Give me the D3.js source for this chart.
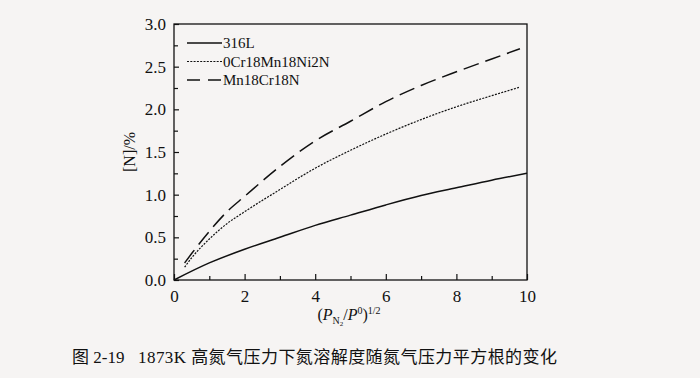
<!DOCTYPE html>
<meta charset="utf-8">
<style>
	body { margin: 0; background: #f6f4f3; }
	svg { display: block; }
	.frame { fill: none; stroke: #111; stroke-width: 1.3; }
	.axis path { display: none; }
	.axis line { stroke: #111; stroke-width: 1.2; }
	.axis text { font-family: "Liberation Serif", "DejaVu Serif", serif; font-size: 17px; fill: #111; }
	.curve { fill: none; stroke: #111; }
	.legend text { font-family: "Liberation Serif", serif; font-size: 15px; fill: #111; }
	.lbl { font-family: "Liberation Serif", serif; fill: #111; }
	.caption { font-family: "Liberation Serif", "Noto Sans CJK SC", serif; font-size: 17px; fill: #111; }
</style>
<div class="vis"></div>
<script src="https://d3js.org/d3.v7.min.js"></script>
<script>

	// Data
	const seriesNames = ["316L", "0Cr18Mn18Ni2N", "Mn18Cr18N"];

	const x316L = [0, 1, 2, 3, 4, 5, 6, 7, 8, 9, 10];
	const y316L = [0, 0.20, 0.36, 0.50, 0.64, 0.76, 0.88, 0.99, 1.08, 1.17, 1.25];

	const xCrMnNi = [0.3, 0.5, 1, 1.5, 2, 3, 4, 5, 6, 7, 8, 9, 9.8];
	const yCrMnNi = [0.15, 0.26, 0.48, 0.66, 0.80, 1.06, 1.31, 1.52, 1.71, 1.88, 2.03, 2.16, 2.26];

	const xMnCr = [0.3, 0.5, 1, 1.5, 2, 3, 4, 5, 6, 7, 8, 9, 9.8];
	const yMnCr = [0.20, 0.31, 0.57, 0.80, 0.98, 1.33, 1.63, 1.86, 2.09, 2.28, 2.44, 2.59, 2.71];

	const xTicks = [0, 2, 4, 6, 8, 10];
	const xMinor = [1, 3, 5, 7, 9];
	const yTicks = [0, 0.5, 1.0, 1.5, 2.0, 2.5, 3.0];
	const yMinor = [0.25, 0.75, 1.25, 1.75, 2.25, 2.75];

	const captionNo = "图 2-19";
	const captionText = "1873K 高氮气压力下氮溶解度随氮气压力平方根的变化";

	// Setup
	const W = 700, H = 378;
	const margin = {left: 174, top: 24, right: 173, bottom: 98};
	const width = W - margin.left - margin.right,
		height = H - margin.top - margin.bottom;

	const svg = d3.select(".vis").append("svg")
		.attr("width", W)
		.attr("height", H);

	const g = svg.append("g")
		.attr("transform", "translate(" + margin.left + "," + margin.top + ")");

	const x = d3.scaleLinear().domain([0, 10]).range([0, width]);
	const y = d3.scaleLinear().domain([0, 3]).range([height, 0]);

	// Axes (ticks point inward)
	g.append("g").attr("class", "axis")
		.attr("transform", "translate(0," + height + ")")
		.call(d3.axisBottom(x).tickValues(xTicks).tickSize(-6).tickPadding(10).tickFormat(d3.format("d")));
	g.append("g").attr("class", "axis")
		.attr("transform", "translate(0," + height + ")")
		.call(d3.axisBottom(x).tickValues(xMinor).tickSize(-4).tickFormat(""));
	g.append("g").attr("class", "axis")
		.call(d3.axisLeft(y).tickValues(yTicks).tickSize(-5).tickPadding(8).tickFormat(d3.format(".1f")));
	g.append("g").attr("class", "axis")
		.call(d3.axisLeft(y).tickValues(yMinor).tickSize(-4).tickFormat(""));

	g.append("rect").attr("class", "frame")
		.attr("width", width).attr("height", height);

	// Curves
	const line = d3.line()
		.x(d => x(d[0]))
		.y(d => y(d[1]))
		.curve(d3.curveMonotoneX);

	const zip = (a, b) => a.map((e, i) => [e, b[i]]);
	const styles = [
		{w: 1.5, dash: null},
		{w: 1.2, dash: "2,1.3"},
		{w: 1.5, dash: "16,7"}
	];
	const series = [zip(x316L, y316L), zip(xCrMnNi, yCrMnNi), zip(xMnCr, yMnCr)];

	series.forEach((s, i) => {
		g.append("path")
			.datum(s)
			.attr("class", "curve")
			.attr("stroke-width", styles[i].w)
			.attr("stroke-dasharray", styles[i].dash)
			.attr("d", line);
	});

	// Legend
	const legend = g.append("g").attr("class", "legend")
		.attr("transform", "translate(13,19)");
	const legendDash = [null, "2,1.3", "13,8"];
	seriesNames.forEach((name, i) => {
		legend.append("line")
			.attr("x1", 0).attr("x2", 35)
			.attr("y1", i * 18.5).attr("y2", i * 18.5)
			.attr("stroke", "#111")
			.attr("stroke-width", styles[i].w)
			.attr("stroke-dasharray", legendDash[i]);
		legend.append("text")
			.attr("x", 36).attr("y", i * 18.5 + 5)
			.text(name);
	});

	// X label: (P_N2 / P^0)^1/2
	const xl = svg.append("text").attr("class", "lbl")
		.attr("x", 349).attr("y", 320)
		.attr("text-anchor", "middle")
		.attr("font-size", 16);
	xl.append("tspan").text("(");
	xl.append("tspan").attr("font-style", "italic").text("P");
	xl.append("tspan").attr("font-size", 10).attr("dy", 4).text("N");
	xl.append("tspan").attr("font-size", 7).attr("dy", 2).text("2");
	xl.append("tspan").attr("dy", -6).text("/");
	xl.append("tspan").attr("font-style", "italic").text("P");
	xl.append("tspan").attr("font-size", 10).attr("dy", -6).text("0");
	xl.append("tspan").attr("dy", 6).text(")");
	xl.append("tspan").attr("font-size", 10).attr("dy", -6).text("1/2");

	// Y label
	svg.append("text").attr("class", "lbl")
		.attr("font-size", 16)
		.attr("transform", "translate(135,152) rotate(-90)")
		.attr("text-anchor", "middle")
		.text("[N]/%");

	// Caption
	svg.append("text").attr("class", "caption")
		.attr("x", 72).attr("y", 363)
		.text(captionNo);
	svg.append("text").attr("class", "caption")
		.attr("x", 138).attr("y", 363)
		.attr("textLength", 419)
		.text(captionText);

</script>
